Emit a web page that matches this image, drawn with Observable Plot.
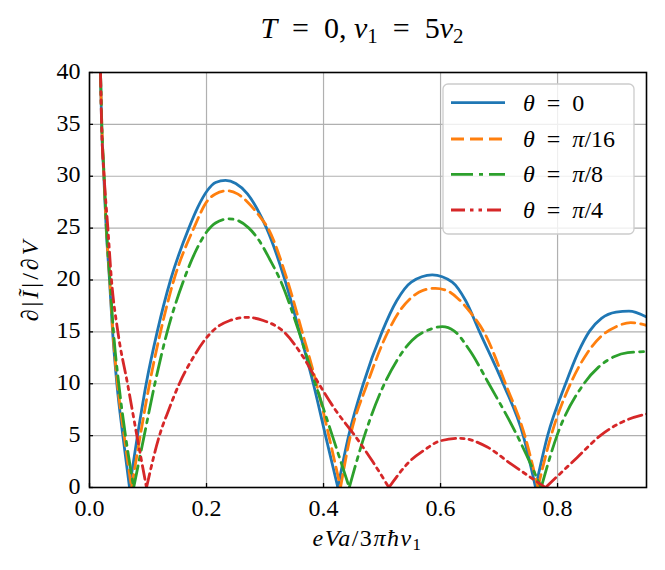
<!DOCTYPE html>
<html><head><meta charset="utf-8">
<script src="https://cdn.jsdelivr.net/npm/d3@7"></script>
<script src="https://cdn.jsdelivr.net/npm/@observablehq/plot@0.6"></script>
<style>
body{margin:0;background:#fff;font-family:"Liberation Serif","Times New Roman","DejaVu Serif",serif;}
#wrap{width:665px;height:570px;position:relative;overflow:hidden;background:#fff;}
#title{height:60px;box-sizing:border-box;padding-top:13px;margin-left:78px;width:568px;text-align:center;font-size:30px;line-height:1;white-space:nowrap;color:#000;}
#title sub{font-size:70%;vertical-align:-0.25em;line-height:0;}
#chart svg{display:block;}
#chart svg, #chart svg text{font-family:"Liberation Serif","Times New Roman","DejaVu Serif",serif !important;}
</style></head><body>
<div id="wrap"><div id="title"><i>T</i>&ensp;=&ensp;0, <i>v</i><sub>1</sub>&ensp;=&ensp;5<i>v</i><sub>2</sub></div><div id="chart"></div></div>
<script>
// ---- data ----
const seriesNames = ["θ = 0", "θ = π/16", "θ = π/8", "θ = π/4"];
const colors = ["#1f77b4", "#ff7f0e", "#2ca02c", "#d62728"];
const xTicks = [0, 0.2, 0.4, 0.6, 0.8];
const yTicks = [0, 5, 10, 15, 20, 25, 30, 35, 40];

// θ = 0
const x0 = [0.0188,0.0207,0.0245,0.0285,0.0342,0.0395,0.0468,0.057,0.0684,
  0.082,0.0969,0.1157,0.1385,0.1698,0.185,0.2011,0.2154,0.2325,0.25,0.27,0.287,0.3026,0.334,0.359,0.3826,0.4034,0.4245,
  0.443,0.468,0.50,0.525,0.55,0.5858,0.62,0.643,0.6667,0.707,0.7413,0.7624,
  0.783,0.8137,0.835,0.855,0.875,0.9,0.922,0.9533];
const y0 = [40,35,30,25,20,15,10,5,0,
  5,10,15,20,25,27,28.6,29.4,29.6,29.3,28.3,26.8,25,20,15,10,5,0,
  5,10,15,18,19.8,20.5,19.8,18,15,10,5,0,
  5,10,13,15.1,16.3,16.9,17.0,16.4];

// θ = π/16
const x1 = [0.0188,0.021,0.0248,0.0288,0.0346,0.04,0.0478,0.0592,0.0718,
  0.0868,0.1026,0.1214,0.1442,0.1783,0.2011,0.2154,0.2355,0.253,0.272,0.29,0.305,0.338,0.3635,0.388,0.409,0.429,
  0.446,0.4747,0.51,0.53,0.55,0.57,0.5914,0.61,0.63,0.652,0.6741,0.711,0.744,0.7664,
  0.789,0.822,0.85,0.875,0.9,0.925,0.9533];
const y1 = [40,35,30,25,20,15,10,5,0,
  5,10,15,20,25,27.6,28.3,28.6,28.3,27.4,26.2,25,20,15,10,5,0,
  5,10,15,17,18.3,19,19.2,19,18.2,16.8,15,10,5,0,
  5,10,12.9,14.6,15.5,15.9,15.6];

// θ = π/8
const x2 = [0.0188,0.021,0.025,0.029,0.035,0.041,0.050,0.0615,0.0755,
  0.0935,0.1117,0.1328,0.1612,0.18,0.2011,0.2154,0.2382,0.255,0.2725,0.29,0.308,0.326,0.358,0.386,0.415,0.444,
  0.47,0.5,0.525,0.5515,0.58,0.6029,0.623,0.65,0.6826,0.731,0.772,
  0.799,0.845,0.87,0.8963,0.92,0.9533];
const y2 = [40,35,30,25,20,15,10,5,0,
  5,10,15,20,22.6,24.7,25.5,25.9,25.7,25,23.8,22,20,15,10,5,0,
  5,9.5,12.2,14.2,15.2,15.5,15.1,13.2,10,5,0,
  5,10,11.6,12.6,13.0,13.1];

// θ = π/4
const x3 = [0.0188,0.0207,0.025,0.0314,0.0376,0.0485,0.065,0.081,0.0974,
  0.1195,0.1355,0.1535,0.178,0.198,0.217,0.24,0.2695,0.297,0.3322,0.365,0.392,0.42,0.4535,0.484,0.5117,
  0.5488,0.572,0.6,0.634,0.6798,0.7197,0.7795,
  0.8336,0.873,0.91,0.9533];
const y3 = [40,35,30,25,20,15,10,5,0,
  5,7.5,10,12.6,14.3,15.4,16.1,16.4,16.1,15,12.6,10,7.5,5,2.5,0,
  2.6,3.6,4.5,4.74,3.9,2.3,0,
  2.9,5,6.3,7.1];

// ---- build tables (split each series at its zeros so the V-shaped minima stay sharp) ----
const xs = [x0, x1, x2, x3], ys = [y0, y1, y2, y3];
const dashes = [null, "13,6", "22,6,4,6", "14,5,3.5,5,3.5,5"];
function segRows(xa, ya) {
  const rows = []; let seg = 0;
  for (let i = 0; i < xa.length; i++) {
    rows.push({x: xa[i], y: ya[i], seg});
    if (ya[i] === 0 && i > 0 && i < xa.length - 1) { seg++; rows.push({x: xa[i], y: ya[i], seg}); }
  }
  return rows;
}
const tables = xs.map((xa, i) => segRows(xa, ys[i]));

const W = 665, H = 510, mL = 89, mR = 19, mT = 12, mB = 83;
const fw = W - mL - mR, fh = H - mT - mB;
const lineW = 2.8;
const FONT = "Liberation Serif, Times New Roman, DejaVu Serif, serif";

const lineMarks = tables.map((t, i) => Plot.line(t, {
  x: "x", y: "y", z: "seg", stroke: colors[i], strokeWidth: lineW,
  strokeDasharray: dashes[i] || undefined, curve: "monotone-x", clip: true
}));

const chart = Plot.plot({
  width: W, height: H, marginLeft: mL, marginRight: mR, marginTop: mT, marginBottom: mB,
  style: {fontSize: "24px", color: "black", background: "white", overflow: "visible"},
  x: {domain: [0, 0.952]},
  y: {domain: [0, 40]},
  marks: [
    Plot.gridX(xTicks, {stroke: "#b0b0b0", strokeOpacity: 1, strokeWidth: 1.2}),
    Plot.gridY(yTicks, {stroke: "#b0b0b0", strokeOpacity: 1, strokeWidth: 1.2}),
    Plot.axisX(xTicks, {tickSize: 0, tickPadding: 11, tickFormat: d => d.toFixed(1), label: null, fontSize: 24}),
    Plot.axisY(yTicks, {tickSize: 0, tickPadding: 9, dy: -1.5, label: null, fontSize: 24}),
    Plot.tickX(xTicks, {x: d => d, insetTop: fh - 4, stroke: "black", strokeWidth: 1.3}),
    Plot.tickY(yTicks, {y: d => d, insetRight: fw - 4, stroke: "black", strokeWidth: 1.3}),
    ...lineMarks,
    Plot.frame({stroke: "black", strokeWidth: 1.6})
  ]
});
document.getElementById("chart").appendChild(chart);

// ---- axis labels and legend ----
const svg = d3.select(chart);
function rich(sel, parts) {
  parts.forEach(([t, it, sub]) => {
    const ts = sel.append("tspan").text(t);
    if (it) ts.attr("font-style", "italic");
    if (sub) ts.attr("font-size", "70%").attr("dy", "0.25em");
  });
}
const xl = svg.append("text").attr("x", mL + fw / 2).attr("y", 486).attr("text-anchor", "middle")
  .attr("font-size", 24).attr("letter-spacing", 1.5).attr("fill", "black");
rich(xl, [["eVa", 1], ["/3", 0], ["πħv", 1], ["1", 0, 1]]);
const yl = svg.append("text").attr("transform", `translate(38,${mT + fh / 2}) rotate(-90)`)
  .attr("text-anchor", "middle").attr("font-size", 24)
  .attr("letter-spacing", 3).attr("fill", "black");
rich(yl, [["∂|", 0], ["Ĩ", 1], ["|/∂", 0], ["V", 1]]);

const EQ = "\u2002=\u2002";
const legendParts = [
  [["θ", 1], [EQ + "0", 0]],
  [["θ", 1], [EQ, 0], ["π", 1], ["/16", 0]],
  [["θ", 1], [EQ, 0], ["π", 1], ["/8", 0]],
  [["θ", 1], [EQ, 0], ["π", 1], ["/4", 0]]
];
const lg = svg.append("g");
lg.append("rect").attr("x", 443).attr("y", 24).attr("width", 191).attr("height", 150).attr("rx", 5)
  .attr("fill", "white").attr("fill-opacity", 0.8).attr("stroke", "#cccccc").attr("stroke-width", 1.3);
const rowY = [42.7, 79, 114.3, 150];
seriesNames.forEach((name, i) => {
  const ln = lg.append("line").attr("x1", 451).attr("x2", 505).attr("y1", rowY[i]).attr("y2", rowY[i])
    .attr("stroke", colors[i]).attr("stroke-width", lineW);
  if (dashes[i]) ln.attr("stroke-dasharray", dashes[i]);
  const tx = lg.append("text").attr("x", 523).attr("y", rowY[i] + 8).attr("text-anchor", "start")
    .attr("font-size", 24).attr("fill", "black");
  tx.append("title").text(name);
  rich(tx, legendParts[i]);
});
</script>
</body></html>
